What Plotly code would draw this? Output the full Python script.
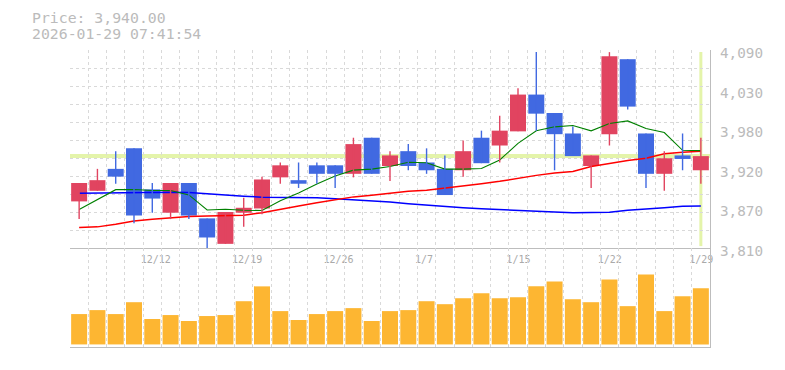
import plotly.graph_objects as go

# ---------------- data ----------------
dates = ["12/8", "12/9", "12/10", "12/11", "12/12", "12/15", "12/16", "12/17", "12/18", "12/19",
         "12/22", "12/23", "12/24", "12/25", "12/26", "12/29", "12/30", "1/5", "1/6", "1/7",
         "1/8", "1/9", "1/13", "1/14", "1/15", "1/16", "1/19", "1/20", "1/21", "1/22",
         "1/23", "1/26", "1/27", "1/28", "1/29"]
opens = [3876, 3891, 3922, 3951, 3893, 3860, 3902, 3852, 3816, 3860,
         3866, 3910, 3906, 3927, 3927, 3915, 3966, 3926, 3947, 3931,
         3922, 3920, 3966, 3955, 3975, 4027, 4001, 3972, 3926, 3971,
         4077, 3972, 3915, 3941, 3920]
highs = [3902, 3922, 3947, 3951, 3902, 3902, 3902, 3852, 3861, 3881,
         3911, 3931, 3931, 3931, 3927, 3966, 3966, 3947, 3957, 3951,
         3941, 3962, 3976, 3997, 4036, 4087, 4001, 3982, 3941, 4087,
         4077, 3972, 3947, 3972, 3966]
lows = [3851, 3891, 3901, 3845, 3860, 3851, 3851, 3810, 3816, 3840,
        3858, 3901, 3895, 3901, 3895, 3910, 3915, 3905, 3920, 3915,
        3885, 3911, 3930, 3931, 3975, 3976, 3920, 3940, 3895, 3955,
        4006, 3895, 3891, 3920, 3901]
closes = [3902, 3906, 3911, 3856, 3880, 3902, 3856, 3825, 3861, 3867,
          3907, 3927, 3901, 3915, 3915, 3957, 3915, 3941, 3926, 3920,
          3885, 3947, 3930, 3976, 4027, 4000, 3971, 3940, 3941, 4081,
          4010, 3915, 3937, 3936, 3940]
ma_short = [3864.6, 3878.2, 3892.6, 3892.9, 3891.5, 3891.5, 3885.2, 3863.8, 3864.9, 3863.5,
            3863.1, 3876.8, 3888.0, 3900.6, 3911.8, 3920.2, 3921.6, 3925.4, 3931.4, 3930.7,
            3921.6, 3921.6, 3922.6, 3934.6, 3958.0, 3975.8, 3981.4, 3983.2, 3975.8, 3986.0,
            3989.8, 3979.0, 3973.4, 3948.2, 3947.8]
ma_mid = [3839.0, 3840.0, 3843.6, 3848.4, 3850.6, 3853.0, 3854.7, 3855.4, 3855.8, 3856.5,
          3860.0, 3864.2, 3869.4, 3874.0, 3878.6, 3882.4, 3884.8, 3888.0, 3890.4, 3891.8,
          3894.6, 3898.2, 3901.0, 3904.4, 3909.0, 3912.8, 3916.0, 3918.4, 3925.4, 3930.0,
          3933.8, 3937.0, 3943.3, 3945.5, 3946.9]
ma_long = [3887.6, 3888.0, 3888.0, 3888.7, 3889.0, 3889.0, 3888.7, 3886.6, 3884.8, 3883.4,
           3882.0, 3882.0, 3881.0, 3881.0, 3879.6, 3878.2, 3876.4, 3875.0, 3872.6, 3870.5,
           3868.4, 3867.0, 3865.6, 3864.2, 3863.8, 3862.4, 3861.0, 3860.0, 3860.0, 3860.7,
           3863.5, 3864.9, 3867.0, 3869.0, 3869.4]
volumes = [30700, 34700, 30700, 42700, 25700, 29700, 23700, 28700, 29700, 43700,
           58700, 33700, 24700, 30700, 33700, 36700, 23700, 33700, 34700, 43700,
           40700, 46700, 51700, 46700, 47700, 58700, 63700, 45700, 42700, 65700,
           38700, 70700, 33700, 48700, 56700]
x_tick_labels = ["12/12", "12/19", "12/26", "1/7", "1/15", "1/22", "1/29"]
y_tick_values = [3810, 3866, 3922, 3978, 4034, 4090]
y_tick_labels = ["3,810", "3,870", "3,920", "3,980", "4,030", "4,090"]
price_range = [3810, 4090]
grid_rows = 11
volume_range = [-2600, 97400]
current_price = 3940.00
timestamp = "2026-01-29 07:41:54"

# ---------------- styles ----------------
UP = "#E14460"
DOWN = "#4169E1"
VOL = "#FDB632"
GRID = "#d9d9d9"
AXIS = "#bdbdbd"
HILITE = "#E4F4AA"
TXT = "#bbbbbb"
FONT = "DejaVu Sans Mono"
PAGE_OFFSET = 8  # default body margin of the html page

n = len(dates)
idx = list(range(n))
bounds = [i - 0.5 for i in range(n + 1)]
bound_text = [dates[i] if i < n and dates[i] in x_tick_labels else "" for i in range(n + 1)]
grid_vals = [price_range[0] + k * (price_range[1] - price_range[0]) / grid_rows for k in range(grid_rows + 1)]

fig = go.Figure()

# moving averages (under candles)
fig.add_trace(go.Scatter(x=idx, y=ma_long, mode="lines", line=dict(color="#0000FF", width=1.5),
                         xaxis="x", yaxis="y", hoverinfo="skip"))
fig.add_trace(go.Scatter(x=idx, y=ma_mid, mode="lines", line=dict(color="#FF0000", width=1.5),
                         xaxis="x", yaxis="y", hoverinfo="skip"))
fig.add_trace(go.Scatter(x=idx, y=ma_short, mode="lines", line=dict(color="#008000", width=1.1),
                         xaxis="x", yaxis="y", hoverinfo="skip"))

# wicks
for is_up, col in ((True, UP), (False, DOWN)):
    wx, wy = [], []
    for i in idx:
        if (closes[i] >= opens[i]) == is_up:
            wx += [i, i, None]
            wy += [lows[i], highs[i], None]
    fig.add_trace(go.Scatter(x=wx, y=wy, mode="lines", line=dict(color=col, width=1.4),
                             xaxis="x", yaxis="y", hoverinfo="skip"))

# bodies
fig.add_trace(go.Bar(x=idx, y=[c - o for o, c in zip(opens, closes)], base=opens,
                     width=0.875,
                     marker=dict(color=[UP if c >= o else DOWN for o, c in zip(opens, closes)],
                                 line=dict(width=0)),
                     xaxis="x", yaxis="y", hoverinfo="skip"))

# volume
fig.add_trace(go.Bar(x=idx, y=volumes, width=0.875, marker=dict(color=VOL, line=dict(width=0)),
                     xaxis="x2", yaxis="y2", hoverinfo="skip"))

# anchor trace for label axis
fig.add_trace(go.Scatter(x=[idx[-1]], y=[current_price], mode="markers", marker=dict(opacity=0),
                         xaxis="x", yaxis="y3", hoverinfo="skip"))

split = 0.333
fig.update_layout(
    width=785 - PAGE_OFFSET, height=370 - PAGE_OFFSET,
    margin=dict(l=70 - PAGE_OFFSET, r=75, t=50 - PAGE_OFFSET, b=20),
    paper_bgcolor="white", plot_bgcolor="white",
    showlegend=False, hovermode=False, barmode="overlay",
    xaxis=dict(domain=[0, 1], anchor="y", range=[-0.5, n - 0.5],
               tickmode="array", tickvals=bounds, ticktext=bound_text,
               ticklabelposition="outside right", ticklabeloverflow="allow",
               ticks="", ticklabelstandoff=2, ticklabelshift=-3,
               tickfont=dict(family=FONT, size=10, color="#aaaaaa"),
               showgrid=True, gridcolor=GRID, griddash="3px,3px", gridwidth=1,
               showline=True, linecolor=AXIS, linewidth=1, zeroline=False),
    yaxis=dict(domain=[split, 1], anchor="x", range=price_range, side="right",
               tickmode="array", tickvals=grid_vals, showticklabels=False, ticks="",
               showgrid=True, gridcolor=GRID, griddash="3px,3px", gridwidth=1,
               showline=True, linecolor=AXIS, linewidth=1, zeroline=False),
    yaxis3=dict(overlaying="y", anchor="x", side="right", range=price_range,
                tickmode="array", tickvals=y_tick_values, ticktext=y_tick_labels,
                ticks="", ticklabelstandoff=9, ticklabelshift=3,
                tickfont=dict(family=FONT, size=14.3, color=TXT),
                showgrid=False, showline=False, zeroline=False),
    xaxis2=dict(domain=[0, 1], anchor="y2", range=[-0.5, n - 0.5],
                tickmode="array", tickvals=bounds, showticklabels=False, ticks="",
                showgrid=True, gridcolor=GRID, griddash="3px,3px", gridwidth=1,
                showline=True, mirror=False, linecolor=AXIS, linewidth=1, zeroline=False),
    yaxis2=dict(domain=[0, split], anchor="x2", range=volume_range, side="right",
                showticklabels=False, ticks="", showgrid=False,
                showline=True, linecolor=AXIS, linewidth=1, zeroline=False),
    shapes=[
        dict(type="line", xref="x domain", x0=0, x1=1, yref="y", y0=current_price, y1=current_price,
             line=dict(color=HILITE, width=4), layer="below"),
        dict(type="line", xref="x", x0=idx[-1], x1=idx[-1], yref="y domain", y0=0.01, y1=0.99,
             line=dict(color=HILITE, width=3), layer="below"),
    ],
    annotations=[
        dict(text=f"Price: {current_price:,.2f}", xref="paper", yref="paper",
             x=-40 / 640, y=(350 - 17.5) / 300, xanchor="left", yanchor="middle",
             showarrow=False, font=dict(family=FONT, size=14.8, color=TXT)),
        dict(text=timestamp, xref="paper", yref="paper",
             x=-40 / 640, y=(350 - 33) / 300, xanchor="left", yanchor="middle",
             showarrow=False, font=dict(family=FONT, size=14.8, color=TXT)),
    ],
)

fig.write_html("out.html")
